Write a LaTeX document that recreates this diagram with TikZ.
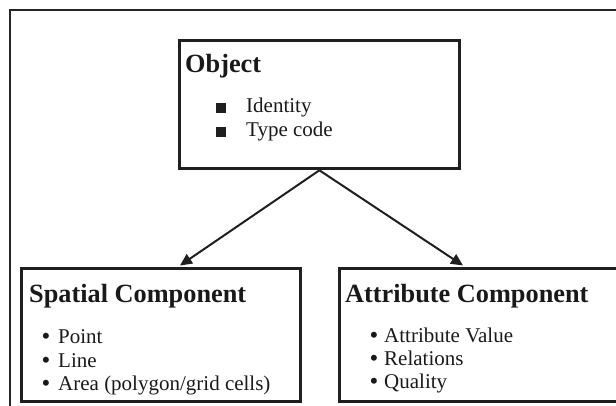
\documentclass[tikz,border=0pt]{standalone}
\usepackage{fontspec}
\setmainfont{Liberation Serif}
\usetikzlibrary{arrows.meta}
\begin{document}
\begin{tikzpicture}[x=1pt,y=-1pt,
  box/.style={draw=black!88, line width=2.8pt, rectangle, inner sep=0pt, anchor=north west},
  frame/.style={draw=black!85, line width=2.8pt},
  head/.style={anchor=base west, inner sep=0pt, font=\fontsize{26.3}{30}\selectfont\bfseries, text=black!90},
  item/.style={anchor=base west, inner sep=0pt, font=\fontsize{21}{25}\selectfont, text=black!90},
  bul/.style={anchor=base, inner sep=0pt, font=\fontsize{25}{28}\selectfont, text=black!90},
  sq/.style={fill=black!88, minimum size=9.5pt, inner sep=0pt, rectangle},
  conn/.style={draw=black!88, line width=2pt, -{Triangle[length=12pt,width=11pt]}}]
\useasboundingbox (0,0) rectangle (616,406);
\draw[frame] (10,10) rectangle (640,430);
% boxes
\node[box, minimum width=280pt, minimum height=128pt] (obj) at (178,39.5) {};
\node[box, minimum width=279pt, minimum height=133pt] (sp) at (20,267) {};
\node[box, minimum width=302pt, minimum height=133pt] (at) at (338,267) {};
% connectors
\coordinate (spin) at (180,265.5);
\coordinate (atin) at (463,265.5);
\draw[conn] (obj.south) -- (spin);
\draw[conn] (obj.south) -- (atin);
% object text
\node[head] (objt) at (185,73) {Object};
\node[sq] (sq1) at (221,108) {};
\node[sq] (sq2) at (221,132) {};
\node[item] (o1) at (246,113) {Identity};
\node[item] (o2) at (246,137) {Type code};
% spatial text
\node[head] (spt) at (29,302) {Spatial Component};
\node[bul] (b1) at (46,344) {\textbullet};
\node[bul] (b2) at (46,368) {\textbullet};
\node[bul] (b3) at (46,391) {\textbullet};
\node[item] (s1) at (58,343) {Point};
\node[item] (s2) at (58,367) {Line};
\node[item] (s3) at (58,390) {Area (polygon/grid cells)};
% attribute text
\node[head] (att) at (345,302) {Attribute Component};
\node[bul] (c1) at (374,343) {\textbullet};
\node[bul] (c2) at (374,366) {\textbullet};
\node[bul] (c3) at (374,389) {\textbullet};
\node[item] (a1) at (384,342) {Attribute Value};
\node[item] (a2) at (384,365) {Relations};
\node[item] (a3) at (384,388) {Quality};
\end{tikzpicture}
\end{document}
